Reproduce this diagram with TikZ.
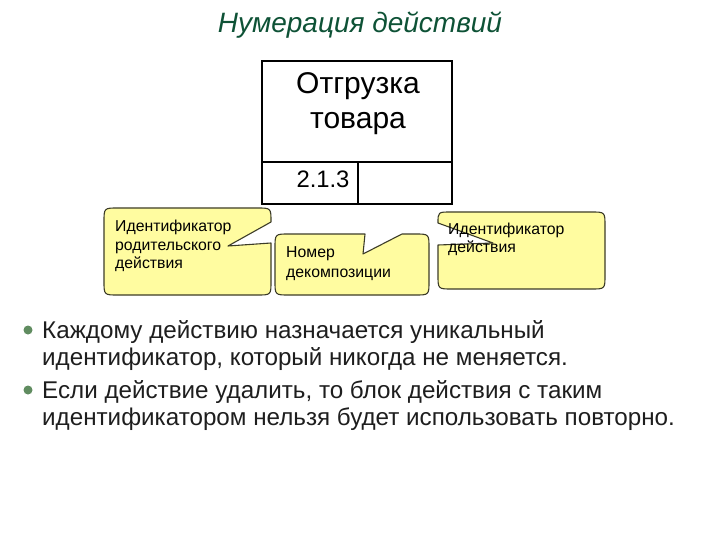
\documentclass[tikz,border=0pt]{standalone}
\usepackage{fontspec}
\setmainfont{Liberation Sans}
\definecolor{titlegreen}{RGB}{14,82,54}
\definecolor{bulletgreen}{RGB}{96,140,96}
\definecolor{calloutfill}{RGB}{255,252,160}
\definecolor{calloutdraw}{RGB}{60,60,40}
\definecolor{bodytext}{RGB}{30,30,30}
\begin{document}
\begin{tikzpicture}[x=1pt,y=-1pt,
  callout/.style={fill=calloutfill,draw=calloutdraw,line width=1.1pt,line join=round},
  ctext/.style={anchor=base west,inner sep=0pt,font=\fontsize{15.8}{18}\selectfont},
  btext/.style={anchor=base west,inner sep=0pt,font=\fontsize{24.2}{27}\selectfont,text=bodytext},
  boxtext/.style={anchor=base,inner sep=0pt,font=\fontsize{30}{35}\selectfont},
  boxline/.style={draw=black,line width=1.4pt}]
\useasboundingbox (0,0) rectangle (720,540);
\fill[white] (0,0) rectangle (720,540);
% title
\node[anchor=base,inner sep=0pt,font=\fontsize{28}{32}\selectfont\itshape,text=titlegreen] (title) at (360,33) {Нумерация действий};
% main box
\node[boxline,minimum width=190pt,minimum height=143pt,inner sep=0pt] (box) at (357,132.5) {};
\coordinate (dl) at (262,162);
\coordinate (dr) at (452,162);
\coordinate (vt) at (358,162);
\coordinate (vb) at (358,204);
\draw[boxline] (dl) -- (dr);
\draw[boxline] (vt) -- (vb);
\node[boxtext] (name1) at (358,94) {Отгрузка};
\node[boxtext] (name2) at (358,129) {товара};
\node[anchor=base,inner sep=0pt,font=\fontsize{23.8}{26}\selectfont] (num) at (323,188) {2.1.3};
% callout 1
\draw[callout] (118,208) -- (257,208) .. controls (271,208) .. (271,222) -- (228,246) -- (271,243) -- (271,281) .. controls (271,295) .. (257,295) -- (118,295) .. controls (104,295) .. (104,281) -- (104,222) .. controls (104,208) .. (118,208) -- cycle;
\node[ctext] (c1a) at (115,232) {Идентификатор};
\node[ctext] (c1b) at (115,250) {родительского};
\node[ctext] (c1c) at (115,268) {действия};
% callout 2
\draw[callout] (289,234) -- (365,234) -- (363,254) -- (402,234) -- (415,234) .. controls (429,234) .. (429,248) -- (429,281) .. controls (429,295) .. (415,295) -- (289,295) .. controls (275,295) .. (275,281) -- (275,248) .. controls (275,234) .. (289,234) -- cycle;
\node[ctext] (c2a) at (286,257) {Номер};
\node[ctext] (c2b) at (286,277) {декомпозиции};
% callout 3
\draw[callout] (451,212) -- (591,212) .. controls (605,212) .. (605,226) -- (605,275) .. controls (605,289) .. (591,289) -- (452,289) .. controls (438,289) .. (438,275) -- (438,245) -- (493,243) -- (438,223) .. controls (438,212) .. (451,212) -- cycle;
\node[ctext] (c3a) at (448,234) {Идентификатор};
\node[ctext] (c3b) at (448,252) {действия};
% bullets
\fill[bulletgreen] (28,330) circle (4.5pt);
\fill[bulletgreen] (28,390) circle (4.5pt);
\node[btext] (b1a) at (42,338) {Каждому действию назначается уникальный};
\node[btext] (b1b) at (42,365) {идентификатор, который никогда не меняется.};
\node[btext] (b2a) at (42,398) {Если действие удалить, то блок действия с таким};
\node[btext] (b2b) at (42,425) {идентификатором нельзя будет использовать повторно.};
\end{tikzpicture}
\end{document}
